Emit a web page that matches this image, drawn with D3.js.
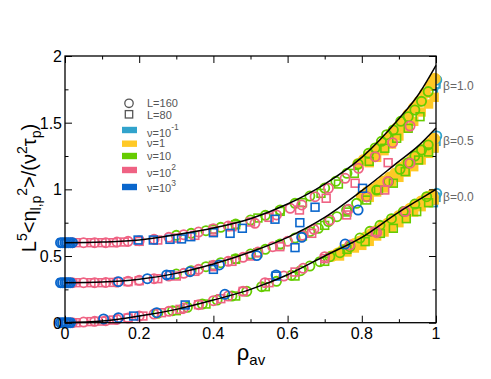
<!DOCTYPE html>
<html>
<head>
<meta charset="utf-8">
<script src="https://cdn.jsdelivr.net/npm/d3@7"></script>
<style>
  body { margin: 0; background: #fff; }
  svg { display: block; }
  text { font-family: "Liberation Sans", Arial, sans-serif; }
</style>
</head>
<body>
<svg id="chart" width="491" height="379"></svg>
<script>
// ticks
const xMajor = [0, 0.2, 0.4, 0.6, 0.8, 1];
const xMinor = [0.1, 0.3, 0.5, 0.7, 0.9];
const yMajor = [0, 0.5, 1, 1.5, 2];
const yMinor = [0.25, 0.75, 1.25, 1.75];

// theory curves
const theoryRho = [0, 0.1, 0.2, 0.3, 0.4, 0.5, 0.6, 0.7, 0.8, 0.9, 0.95, 1];
const theoryB00 = [0, 0.012, 0.05, 0.1, 0.17, 0.25, 0.36, 0.5, 0.64, 0.83, 0.915, 1.0];
const theoryB05 = [0.3, 0.305, 0.325, 0.37, 0.44, 0.53, 0.64, 0.79, 0.99, 1.21, 1.32, 1.46];
const theoryB10 = [0.6, 0.605, 0.62, 0.66, 0.71, 0.78, 0.89, 1.04, 1.24, 1.53, 1.70, 1.93];
const betaLabels = ["β=1.0", "β=0.5", "β=0.0"];
const betaLabelY = [1.78, 1.37, 0.95];

// legend
const sizeLabels = ["L=160", "L=80"];
const nuLabels = [["ν=10", "-1"], ["ν=1", ""], ["ν=10", ""], ["ν=10", "2"], ["ν=10", "3"]];
const nuColors = ["#31a3cc", "#ffc926", "#66cc00", "#ef6283", "#0a66cc"];

// data points [rho_av, value]  -- beta = 1.0
const cyanCircB10 = [[0.99, 1.74], [0.997, 1.78], [1.002, 1.82]];
const cyanSqB10 = [[0.993, 1.72], [1.0, 1.79]];
const yellowCircB10 = [[0.79, 1.19], [0.805, 1.22], [0.82, 1.25], [0.835, 1.29], [0.85, 1.33], [0.865, 1.37], [0.88, 1.42], [0.895, 1.46], [0.91, 1.51], [0.925, 1.56], [0.94, 1.61], [0.955, 1.66], [0.97, 1.72], [0.985, 1.78], [0.997, 1.83]];
const yellowSqB10 = [[0.82, 1.2], [0.84, 1.24], [0.86, 1.29], [0.88, 1.34], [0.9, 1.4], [0.92, 1.46], [0.94, 1.51], [0.96, 1.58], [0.98, 1.64], [0.995, 1.69]];
const greenCircB10 = [[0.3, 0.655], [0.34, 0.67], [0.38, 0.69], [0.42, 0.715], [0.46, 0.74], [0.5, 0.77], [0.54, 0.805], [0.58, 0.845], [0.62, 0.895], [0.66, 0.95], [0.7, 1.01], [0.73, 1.06], [0.76, 1.12], [0.79, 1.19], [0.818, 1.27], [0.836, 1.31], [0.853, 1.36], [0.867, 1.41], [0.885, 1.445], [0.905, 1.51], [0.925, 1.545], [0.943, 1.595], [0.961, 1.66], [0.979, 1.733]];
const greenSqB10 = [[0.4, 0.7], [0.46, 0.735], [0.52, 0.785], [0.58, 0.835], [0.64, 0.9], [0.69, 0.97], [0.737, 1.04], [0.78, 1.12], [0.82, 1.21], [0.862, 1.308], [0.894, 1.383], [0.925, 1.458], [0.957, 1.545]];
const pinkCircB10 = [[0.02, 0.6], [0.05, 0.6], [0.08, 0.6], [0.11, 0.6], [0.14, 0.605], [0.17, 0.61], [0.2, 0.615], [0.24, 0.625], [0.28, 0.64], [0.32, 0.66], [0.36, 0.68], [0.4, 0.705], [0.44, 0.725], [0.512, 0.745], [0.57, 0.808], [0.607, 0.858], [0.638, 0.883], [0.674, 0.945], [0.71, 1.008], [0.755, 1.083], [0.791, 1.158], [0.836, 1.245], [0.883, 1.35], [0.93, 1.475]];
const pinkSqB10 = [[0.03, 0.6], [0.07, 0.6], [0.1, 0.6], [0.13, 0.6], [0.16, 0.605], [0.2, 0.61], [0.25, 0.62], [0.3, 0.635], [0.35, 0.655], [0.4, 0.685], [0.45, 0.72], [0.5, 0.755], [0.55, 0.79], [0.632, 0.845], [0.704, 0.933], [0.782, 1.046], [0.871, 1.2]];
const blueCircB10 = [[-0.012, 0.6], [-0.006, 0.6], [0, 0.6], [0.005, 0.6], [0.01, 0.6], [0.015, 0.6], [0.02, 0.6]];
const blueSqB10 = [[-0.008, 0.6], [0.003, 0.6], [0.012, 0.6], [0.197, 0.62], [0.238, 0.62], [0.283, 0.625], [0.314, 0.628], [0.339, 0.645], [0.4, 0.675], [0.445, 0.67], [0.478, 0.708], [0.566, 0.776], [0.633, 0.75], [0.674, 0.866], [0.802, 1.008]];

// beta = 0.5
const cyanCircB05 = [[0.99, 1.33], [0.997, 1.37], [1.002, 1.4]];
const cyanSqB05 = [[0.993, 1.31], [1.0, 1.36]];
const yellowCircB05 = [[0.8, 0.95], [0.815, 0.98], [0.83, 1.0], [0.845, 1.03], [0.86, 1.06], [0.875, 1.09], [0.89, 1.12], [0.905, 1.16], [0.92, 1.19], [0.935, 1.22], [0.95, 1.26], [0.965, 1.3], [0.98, 1.34], [0.995, 1.38]];
const yellowSqB05 = [[0.82, 0.94], [0.84, 0.98], [0.86, 1.01], [0.88, 1.05], [0.9, 1.09], [0.92, 1.13], [0.94, 1.17], [0.96, 1.22], [0.98, 1.27], [0.995, 1.31]];
const greenCircB05 = [[0.3, 0.365], [0.34, 0.39], [0.38, 0.42], [0.42, 0.45], [0.46, 0.48], [0.5, 0.515], [0.54, 0.55], [0.58, 0.59], [0.62, 0.635], [0.66, 0.683], [0.683, 0.708], [0.71, 0.758], [0.733, 0.795], [0.759, 0.845], [0.786, 0.895], [0.813, 0.945], [0.84, 0.995], [0.872, 1.058], [0.903, 1.15], [0.925, 1.2], [0.943, 1.25], [0.961, 1.295], [0.979, 1.333]];
const greenSqB05 = [[0.4, 0.43], [0.46, 0.475], [0.52, 0.525], [0.58, 0.585], [0.64, 0.65], [0.7, 0.73], [0.76, 0.83], [0.813, 0.92], [0.845, 0.995], [0.885, 1.046], [0.917, 1.133], [0.953, 1.22], [0.98, 1.28]];
const pinkCircB05 = [[0.02, 0.3], [0.05, 0.3], [0.08, 0.3], [0.11, 0.302], [0.14, 0.305], [0.17, 0.31], [0.2, 0.318], [0.24, 0.33], [0.28, 0.35], [0.32, 0.37], [0.36, 0.4], [0.4, 0.43], [0.44, 0.46], [0.48, 0.49], [0.52, 0.53], [0.56, 0.57], [0.6, 0.61], [0.64, 0.655], [0.671, 0.7], [0.714, 0.77], [0.764, 0.85], [0.813, 0.945], [0.87, 1.058], [0.93, 1.196]];
const pinkSqB05 = [[0.03, 0.3], [0.07, 0.3], [0.1, 0.3], [0.13, 0.302], [0.17, 0.308], [0.2, 0.315], [0.25, 0.33], [0.3, 0.35], [0.35, 0.385], [0.4, 0.42], [0.45, 0.46], [0.5, 0.5], [0.579, 0.57], [0.665, 0.67], [0.759, 0.808], [0.862, 0.995]];
const blueCircB05 = [[-0.012, 0.3], [-0.006, 0.3], [0, 0.3], [0.005, 0.3], [0.01, 0.3], [0.015, 0.3], [0.144, 0.308], [0.222, 0.33], [0.274, 0.358], [0.337, 0.383], [0.416, 0.433], [0.517, 0.503], [0.638, 0.64], [0.79, 0.845]];
const blueSqB05 = [[-0.008, 0.3], [0.003, 0.3], [0.012, 0.3], [0.283, 0.36], [0.4, 0.4], [0.62, 0.563]];

// beta = 0.0
const cyanCircB00 = [[0.99, 0.92], [0.997, 0.95], [1.002, 0.97]];
const cyanSqB00 = [[0.993, 0.9], [1.0, 0.94]];
const yellowCircB00 = [[0.72, 0.5], [0.735, 0.52], [0.75, 0.545], [0.765, 0.565], [0.78, 0.59], [0.795, 0.61], [0.81, 0.64], [0.825, 0.665], [0.84, 0.69], [0.855, 0.72], [0.87, 0.745], [0.885, 0.77], [0.9, 0.8], [0.915, 0.83], [0.93, 0.855], [0.945, 0.88], [0.96, 0.91], [0.975, 0.94], [0.99, 0.96]];
const yellowSqB00 = [[0.74, 0.5], [0.76, 0.53], [0.78, 0.56], [0.8, 0.58], [0.82, 0.61], [0.84, 0.65], [0.86, 0.68], [0.88, 0.71], [0.9, 0.75], [0.92, 0.79], [0.94, 0.83], [0.96, 0.87], [0.98, 0.9], [0.995, 0.92]];
const greenCircB00 = [[0.25, 0.07], [0.29, 0.09], [0.33, 0.115], [0.37, 0.14], [0.41, 0.17], [0.45, 0.2], [0.49, 0.235], [0.53, 0.27], [0.57, 0.31], [0.61, 0.355], [0.635, 0.39], [0.66, 0.425], [0.687, 0.458], [0.714, 0.495], [0.741, 0.525], [0.768, 0.57], [0.795, 0.635], [0.822, 0.685], [0.849, 0.73], [0.88, 0.78], [0.912, 0.833], [0.943, 0.89], [0.975, 0.945]];
const greenSqB00 = [[0.3, 0.09], [0.38, 0.14], [0.46, 0.2], [0.54, 0.27], [0.62, 0.35], [0.7, 0.46], [0.76, 0.55], [0.809, 0.608], [0.85, 0.67], [0.885, 0.708], [0.92, 0.78], [0.948, 0.833], [0.98, 0.9]];
const pinkCircB00 = [[0.02, 0.0], [0.05, 0.005], [0.08, 0.01], [0.11, 0.015], [0.14, 0.025], [0.17, 0.035], [0.2, 0.05], [0.24, 0.065], [0.28, 0.085], [0.32, 0.11], [0.36, 0.135], [0.4, 0.165], [0.44, 0.2], [0.48, 0.235], [0.539, 0.3], [0.59, 0.35], [0.642, 0.408], [0.7, 0.495], [0.768, 0.583], [0.84, 0.675], [0.917, 0.833]];
const pinkSqB00 = [[0.03, 0.0], [0.07, 0.008], [0.1, 0.012], [0.13, 0.02], [0.17, 0.035], [0.21, 0.05], [0.26, 0.075], [0.31, 0.1], [0.36, 0.135], [0.42, 0.18], [0.48, 0.235], [0.55, 0.3], [0.62, 0.38], [0.7, 0.48], [0.836, 0.683]];
const blueCircB00 = [[-0.012, 0], [-0.006, 0], [0, 0], [0.005, 0], [0.01, 0], [0.015, 0], [0.104, 0.028], [0.144, 0.038], [0.247, 0.075], [0.431, 0.213], [0.569, 0.358], [0.755, 0.59]];
const blueSqB00 = [[-0.008, 0], [0.003, 0], [0.012, 0], [0.185, 0.05], [0.324, 0.133], [0.569, 0.35]];

const svg = d3.select("#chart");
const x = d3.scaleLinear().domain([0, 1]).range([65, 436]);
const y = d3.scaleLinear().domain([0, 2]).range([322.7, 56]);

// markers, drawn by nu so later colours sit on top
const series = [
  [nuColors[0], "c", [cyanCircB10, cyanCircB05, cyanCircB00]],
  [nuColors[0], "s", [cyanSqB10, cyanSqB05, cyanSqB00]],
  [nuColors[1], "s", [yellowSqB10, yellowSqB05, yellowSqB00]],
  [nuColors[1], "c", [yellowCircB10, yellowCircB05, yellowCircB00]],
  [nuColors[2], "s", [greenSqB10, greenSqB05, greenSqB00]],
  [nuColors[2], "c", [greenCircB10, greenCircB05, greenCircB00]],
  [nuColors[3], "s", [pinkSqB10, pinkSqB05, pinkSqB00]],
  [nuColors[3], "c", [pinkCircB10, pinkCircB05, pinkCircB00]],
  [nuColors[4], "s", [blueSqB10, blueSqB05, blueSqB00]],
  [nuColors[4], "c", [blueCircB10, blueCircB05, blueCircB00]]
];

const marks = svg.append("g");
series.forEach(([col, shape, groups]) => {
  const pts = groups.flat();
  const filled = col === nuColors[1];
  const r = filled ? 5 : 4.6;
  if (shape === "c") {
    marks.append("g").selectAll("circle").data(pts).join("circle")
      .attr("cx", d => x(d[0])).attr("cy", d => y(d[1])).attr("r", r)
      .attr("fill", filled ? col : "none").attr("stroke", col).attr("stroke-width", 1.8);
  } else {
    marks.append("g").selectAll("rect").data(pts).join("rect")
      .attr("x", d => x(d[0]) - 3.9).attr("y", d => y(d[1]) - 3.9)
      .attr("width", 7.8).attr("height", 7.8)
      .attr("fill", filled ? col : "none").attr("stroke", col).attr("stroke-width", 1.6);
  }
});

// theory curves
const line = d3.line().x(d => x(d[0])).y(d => y(d[1])).curve(d3.curveMonotoneX);
[theoryB00, theoryB05, theoryB10].forEach(vals => {
  svg.append("path")
    .datum(theoryRho.map((r, i) => [r, vals[i]]))
    .attr("d", line).attr("fill", "none").attr("stroke", "#000").attr("stroke-width", 1.5);
});

// frame and ticks
svg.append("rect").attr("x", 65).attr("y", 56).attr("width", 371).attr("height", 266.7)
  .attr("fill", "none").attr("stroke", "#000").attr("stroke-width", 1.3);

function tickAxis(axis, scale, vals, len, tr) {
  const g = svg.append("g").attr("transform", tr)
    .call(axis(scale).tickValues(vals).tickSize(len).tickFormat(() => ""));
  g.select(".domain").remove();
  g.selectAll(".tick line").attr("stroke", "#000").attr("stroke-width", 1);
  return g;
}
tickAxis(d3.axisBottom, x, xMajor, -7, "translate(0,322.7)");
tickAxis(d3.axisBottom, x, xMinor, -3.5, "translate(0,322.7)");
tickAxis(d3.axisTop, x, xMajor, -7, "translate(0,56)");
tickAxis(d3.axisTop, x, xMinor, -3.5, "translate(0,56)");
tickAxis(d3.axisLeft, y, yMajor, -7, "translate(65,0)");
tickAxis(d3.axisLeft, y, yMinor, -3.5, "translate(65,0)");
tickAxis(d3.axisRight, y, yMajor, -7, "translate(436,0)");
tickAxis(d3.axisRight, y, yMinor, -3.5, "translate(436,0)");

// tick labels
svg.append("g").selectAll("text").data(xMajor).join("text")
  .attr("x", d => x(d)).attr("y", 338.5).attr("text-anchor", "middle")
  .attr("font-size", 16).text(d => d);
svg.append("g").selectAll("text").data(yMajor).join("text")
  .attr("x", 62).attr("y", d => y(d) + 6).attr("text-anchor", "end")
  .attr("font-size", 16).text(d => d);

// beta labels
svg.append("g").selectAll("text").data(betaLabels).join("text")
  .attr("x", 443).attr("y", (d, i) => y(betaLabelY[i]) + 4.5)
  .attr("font-size", 12).attr("fill", "#666").text(d => d);

// axis titles
const xt = svg.append("text").attr("x", 251).attr("y", 360).attr("text-anchor", "middle");
xt.append("tspan").attr("font-size", 22).text("ρ");
xt.append("tspan").attr("font-size", 15).attr("dy", 5).text("av");

const yt = svg.append("text").attr("transform", "translate(36,188) rotate(-90)")
  .attr("text-anchor", "middle").attr("font-size", 20);
const parts = [
  ["L", 20, 0], ["5", 14, -9], ["<η", 20, 9], ["l,p", 14, 5], ["2", 14, -14],
  [">/(ν", 20, 9], ["2", 14, -9], ["τ", 20, 9], ["p", 14, 5], [")", 20, -5]
];
parts.forEach(([t, fs, dy]) => {
  yt.append("tspan").attr("font-size", fs).attr("dy", dy).text(t);
});

// legend
const lg = svg.append("g");
lg.append("circle").attr("cx", 129).attr("cy", 103.3).attr("r", 4.2)
  .attr("fill", "none").attr("stroke", "#555").attr("stroke-width", 1.3);
lg.append("rect").attr("x", 125.3).attr("y", 110.6).attr("width", 7.4).attr("height", 7.4)
  .attr("fill", "none").attr("stroke", "#555").attr("stroke-width", 1.3);
lg.selectAll("text.sz").data(sizeLabels).join("text").attr("class", "sz")
  .attr("x", 147).attr("y", (d, i) => 107.3 + i * 11.3).attr("font-size", 11)
  .attr("fill", "#555").text(d => d);

const swY = [130, 143.7, 156, 170, 187];
const txY = [136.5, 147.3, 160, 176.5, 192.3];
nuLabels.forEach(([base, sup], i) => {
  lg.append("rect").attr("x", 122).attr("y", swY[i] - 3.2).attr("width", 15).attr("height", 6.4)
    .attr("fill", nuColors[i]);
  const t = lg.append("text").attr("x", 147).attr("y", txY[i]).attr("font-size", 11).attr("fill", "#555");
  t.append("tspan").text(base);
  if (sup) t.append("tspan").attr("font-size", 8.5).attr("dy", -6.5).text(sup);
});
</script>
</body>
</html>
